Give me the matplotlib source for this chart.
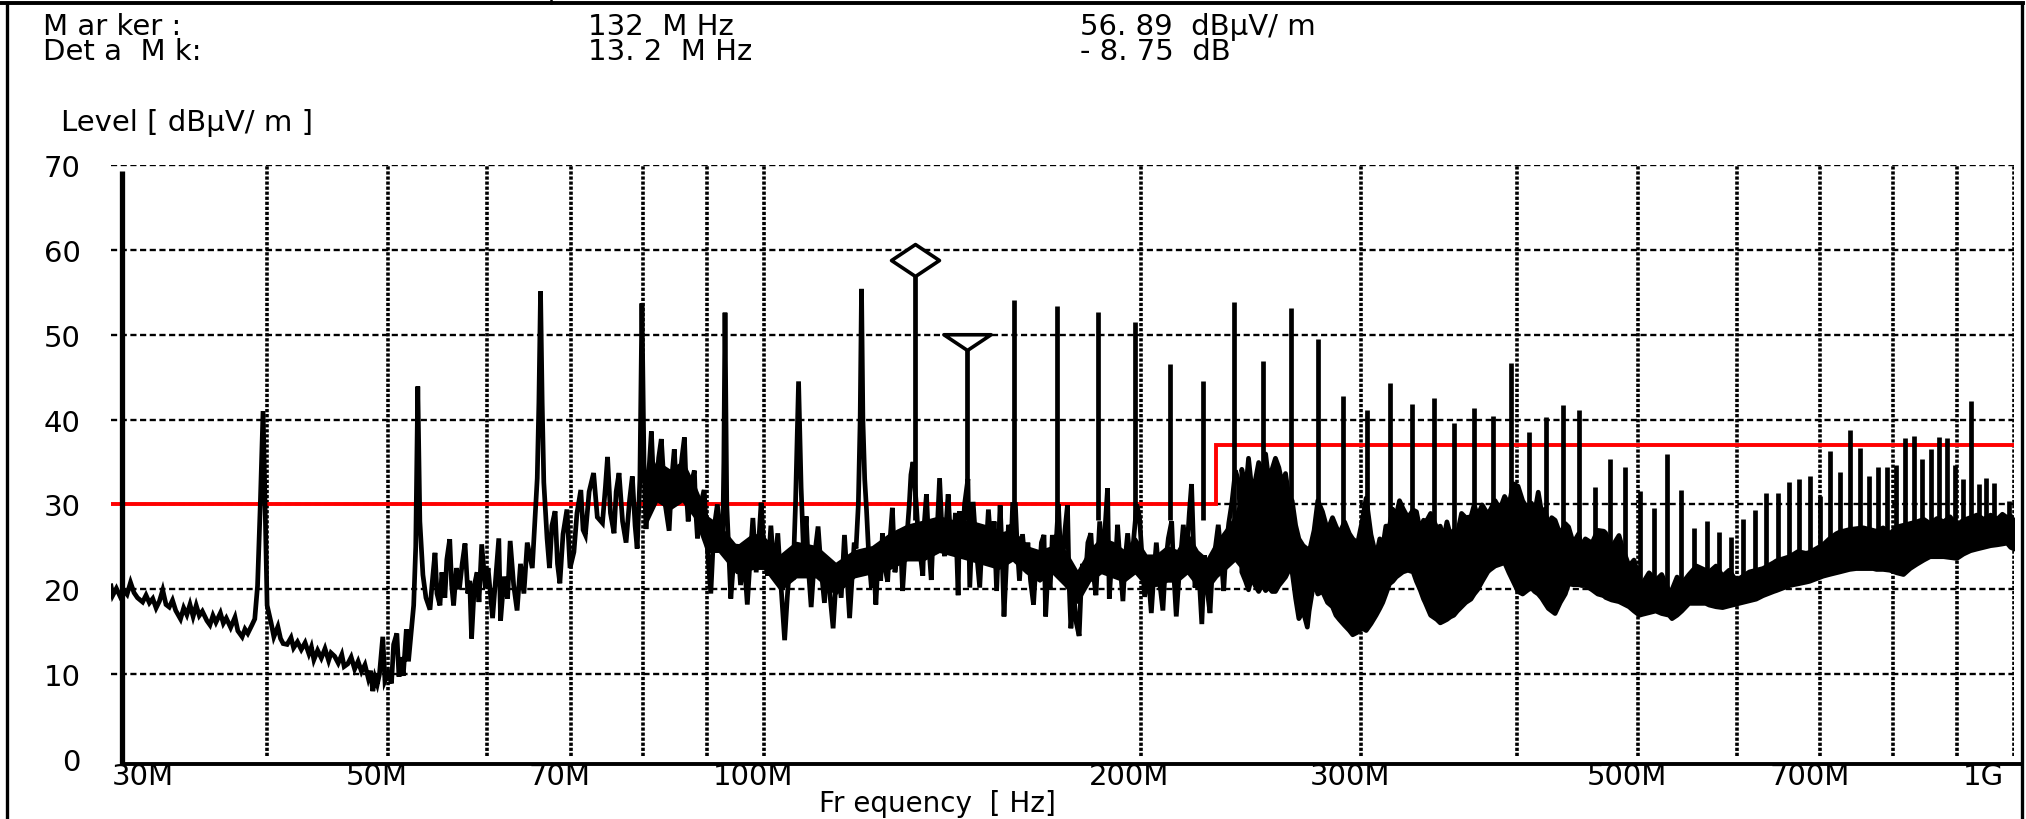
import matplotlib
matplotlib.use("Agg")
import matplotlib.pyplot as plt
import matplotlib.transforms as mtransforms
from matplotlib.lines import Line2D
from matplotlib.path import Path
from matplotlib.ticker import NullLocator
import numpy as np

# ---- data (frequency in MHz, level in dBuV/m) ----
trace_f = [30.0, 30.1, 30.3, 30.5, 30.7, 30.9, 31.1, 31.3, 31.5, 31.8, 32.0, 32.2, 32.4, 32.6, 32.8, 33.0, 33.2, 33.4, 33.6, 33.8,
           34.1, 34.3, 34.5, 34.7, 34.9, 35.1, 35.3, 35.5, 35.8, 36.0, 36.2, 36.4, 36.7, 36.9, 37.1, 37.4, 37.7, 37.9, 38.2, 38.4,
           38.6, 38.9, 39.1, 39.3, 39.5, 39.7, 39.85, 40.0,
           40.3, 40.5, 40.8, 41.0, 41.2, 41.5, 41.8, 42.0, 42.3, 42.6, 42.9, 43.2, 43.4, 43.6, 43.9, 44.2, 44.5, 44.8, 45.0, 45.3,
           45.6, 45.9, 46.1, 46.4, 46.7, 47.0, 47.3, 47.6, 47.9, 48.2, 48.4, 48.6, 48.8, 49.0, 49.2, 49.5, 49.7, 50.0, 50.3, 50.5,
           50.8, 51.0, 51.2, 51.4, 51.7, 51.9, 52.1, 52.4, 52.6, 52.8, 53.0, 53.3,
           53.6, 54.0, 54.2, 54.5, 54.7, 55.0, 55.2, 55.5, 55.7, 56.0, 56.2, 56.4, 56.7, 57.0, 57.3, 57.6, 57.9, 58.1, 58.3, 58.6,
           58.9, 59.1, 59.4, 59.8, 60.1, 60.6,
           61.0, 61.3, 61.5, 61.9, 62.3, 62.6, 63.0, 63.4, 63.8, 64.2, 64.6, 65.2, 65.8, 66.0, 66.2, 66.4, 66.6, 67.0, 67.3, 67.6,
           68.0, 68.3, 68.6, 69.0, 69.5, 69.9, 70.4, 70.8, 71.3, 71.6, 71.9, 72.4, 73.0, 73.5, 74.2, 74.6, 74.9, 75.3, 75.8, 76.1,
           76.5, 77.0, 77.5, 78.0, 78.4, 78.8, 79.1, 79.5, 79.8, 80.1, 80.4, 80.8, 81.2, 81.5, 81.9, 82.3, 82.7, 83.3, 83.9, 84.3,
           84.7, 85.1, 85.5, 85.9, 86.3, 86.6, 86.9, 87.4, 87.9, 88.1, 88.4, 88.9, 89.5, 90.0, 90.6, 91.1, 91.7, 92.1, 92.6, 92.8,
           93.0, 93.3, 94.0, 94.5, 95.2, 95.7, 96.3, 96.9, 97.4, 97.9, 98.5, 99.0, 99.4, 100.0, 100.6, 101.2, 101.8, 102.5, 103.1, 103.8,
           104.3, 104.9, 105.4, 105.9, 106.5, 107.0, 107.5, 108.0, 108.5, 109.0, 109.7, 110.4, 111.0, 111.7, 112.3, 112.9, 113.5, 114.0, 114.5, 115.2,
           115.9, 116.4, 117.0, 117.6, 118.0, 118.4, 118.9, 119.3, 119.6, 119.9, 120.3, 120.7, 121.2, 121.8,
           122.3, 122.8, 123.4, 123.9, 124.3, 124.9, 125.5, 126.0, 126.6, 127.2, 127.8, 128.4, 129.0, 129.6, 130.2, 130.6, 131.0, 131.5, 132.3, 132.7,
           133.3, 133.9, 134.3, 134.8, 135.4, 136.0, 136.6, 137.3, 138.1, 138.7, 139.4, 139.9, 140.3, 140.9, 141.6, 142.2, 142.9, 143.3, 143.9, 144.6,
           145.5, 146.0, 146.5, 146.9, 147.8, 148.7, 149.5, 150.3, 151.1, 152.0, 152.7, 153.4, 153.9, 154.4, 155.0, 155.5, 156.2, 156.8, 157.5, 158.0,
           158.8, 159.3, 160.0, 160.9, 161.8, 162.5, 163.3, 164.2, 165.0, 165.8, 166.6, 167.4, 167.9, 168.6, 169.3, 170.0, 170.8, 171.9, 172.5, 173.2,
           174.0, 174.8, 175.3, 175.9, 176.8, 177.7, 178.6, 179.1, 179.7, 180.6, 181.5, 182.5, 183.3, 184.2, 185.5, 186.4, 187.3, 188.2, 188.8, 189.8,
           190.7, 191.7, 192.6, 193.6, 194.4, 195.3, 196.5, 197.5, 198.6, 199.6, 200.5, 201.5, 202.7, 204.0, 204.9, 205.9, 207.1, 208.4, 209.4, 210.5,
           211.8, 212.6, 213.6, 214.9, 216.4, 217.6, 218.8, 219.7, 220.4, 221.1, 222.5, 223.9, 225.0, 226.1, 227.3, 228.4, 229.6, 230.8, 232.0, 233.1,
           234.2, 235.3, 236.7, 238.2, 239.7, 240.4, 241.2]
trace_v = [20.4, 19.3, 20.1, 19.2, 19.9, 19.4, 20.8, 19.6, 19.0, 18.5, 19.3, 18.4, 18.9, 17.8, 18.6, 19.9, 18.2, 17.9, 18.7, 17.5,
           16.5, 17.8, 17.0, 18.2, 16.8, 18.1, 16.9, 17.4, 16.3, 15.8, 16.9, 16.1, 17.2, 16.0, 16.6, 15.5, 16.7, 15.1, 14.4, 15.3,
           14.8, 15.8, 16.5, 20.4, 30.0, 41.0, 30.0, 18.1,
           16.0, 14.4, 15.6, 14.2, 13.6, 13.5, 14.3, 13.1, 13.8, 12.9, 13.7, 12.4, 13.2, 11.7, 12.8, 11.9, 13.0, 11.6, 12.5, 12.1,
           11.3, 12.3, 10.9, 11.2, 12.0, 10.6, 11.5, 10.3, 11.1, 9.5, 10.4, 8.0, 9.6, 8.8, 10.0, 14.4, 9.2, 10.1, 8.9, 13.5,
           14.8, 9.7, 12.0, 9.8, 15.3, 11.5, 14.2, 18.1, 25.0, 43.9, 28.0, 21.7,
           19.0, 17.6, 20.5, 24.3, 19.5, 18.1, 22.0, 19.0, 23.5, 25.9, 20.5, 18.1, 22.5, 20.0, 23.0, 25.4, 19.5, 21.0, 14.2, 20.5,
           22.0, 18.5, 25.3, 20.2, 22.5, 16.6,
           22.0, 26.0, 16.3, 21.5, 18.9, 25.7, 20.5, 17.5, 23.0, 19.5, 25.5, 22.5, 33.1, 42.0, 55.1, 42.0, 32.6, 26.0, 22.5, 27.5,
           29.2, 23.0, 20.7, 26.5, 29.4, 22.5, 24.4, 29.0, 31.7, 27.0, 26.4, 31.5, 33.7, 28.5, 27.8, 32.0, 35.6, 29.0, 26.6, 31.5,
           33.7, 28.0, 25.5, 30.5, 33.3, 27.5, 24.8, 33.0, 53.7, 35.0, 27.1, 33.5, 38.6, 33.0, 31.7, 35.5, 37.7, 30.0, 26.9, 33.0,
           36.5, 31.0, 32.4, 35.5, 37.9, 31.5, 28.0, 32.5, 34.0, 29.5, 26.0, 30.0, 31.7, 25.0, 19.5, 27.0, 30.0, 27.0, 25.6, 35.0,
           52.6, 30.0, 18.9, 23.5, 25.3, 20.5, 24.0, 18.2, 23.5, 28.4, 22.0, 26.0, 30.2, 24.0, 21.6, 27.5, 22.0, 26.6, 20.5, 14.0,
           19.0, 24.0, 21.1, 30.0, 44.5, 32.0, 24.0, 28.6, 22.0, 17.9, 24.0, 27.4, 22.5, 18.4, 23.5, 19.0, 15.4, 20.0, 22.5, 19.0,
           26.4, 22.0, 16.6, 22.0, 25.5, 24.8, 30.0, 40.0, 55.4, 40.0, 33.0, 29.4, 24.0, 20.2,
           23.0, 18.2, 24.5, 21.0, 26.6, 22.5, 20.9, 25.5, 29.6, 22.0, 24.4, 27.0, 19.8, 24.5, 27.3, 30.0, 33.5, 35.0, 30.0, 26.9,
           24.0, 21.6, 28.0, 31.2, 25.0, 21.1, 28.0, 25.0, 33.1, 27.0, 23.9, 28.5, 31.2, 26.0, 25.0, 29.0, 19.3, 29.2, 24.0, 30.0,
           33.0, 20.2, 26.0, 30.3, 24.5, 20.2, 27.0, 23.5, 29.4, 24.0, 28.0, 19.8, 25.0, 29.9, 24.0, 16.8, 23.0, 27.6, 24.5, 30.0,
           30.0, 25.3, 21.0, 26.5, 22.5, 25.5, 21.0, 18.2, 23.5, 21.0, 25.5, 26.4, 16.8, 22.0, 20.0, 26.4, 23.0, 30.0, 25.0, 23.0,
           27.0, 29.9, 21.0, 15.4, 19.5, 16.0, 14.5, 19.0, 23.0, 21.0, 25.5, 26.6, 22.0, 19.3, 28.0, 23.0, 27.0, 31.9, 18.9, 24.5,
           21.5, 27.6, 23.0, 18.6, 23.5, 26.6, 22.0, 26.0, 30.0, 28.5, 24.0, 19.1, 22.5, 17.2, 21.5, 25.5, 21.0, 17.5, 23.0, 26.0,
           28.0, 22.0, 16.8, 22.5, 27.6, 23.5, 29.0, 32.4, 26.0, 20.2, 23.0, 15.9, 24.0, 20.0, 17.2, 23.0, 25.0, 27.6, 24.0, 19.8,
           25.0, 27.8, 30.3, 34.0, 32.6, 27.0, 23.0]

# dense core of the noise between 80 and 240 MHz
core_f = [80.5, 82, 84, 86, 88, 90, 92, 95, 98, 100, 103, 106, 110, 114, 118, 122, 126, 130,
          134, 138, 142, 146, 150, 154, 158, 162, 166, 170, 174, 178, 182, 186, 190, 194,
          198, 202, 206, 210, 214, 218, 222, 226, 230, 234, 238, 241]
core_lo = [28.0, 30.5, 29.5, 30.5, 28.5, 24.5, 24.5, 22.0, 22.5, 22.5, 20.0, 21.5, 21.5, 19.5, 21.5, 22.0, 22.5, 23.5,
           23.5, 24.5, 24.0, 23.5, 23.0, 22.5, 23.5, 22.0, 21.0, 22.0, 20.5, 18.5, 21.0, 22.0, 21.5, 21.0,
           22.0, 20.5, 20.5, 21.0, 21.0, 22.0, 20.5, 20.0, 21.5, 22.5, 23.5, 22.5]
core_hi = [32.0, 35.0, 34.0, 35.0, 32.0, 28.5, 27.5, 25.0, 26.5, 26.0, 24.0, 25.5, 25.0, 23.0, 24.5, 25.0, 26.5, 27.5,
           28.0, 28.5, 28.0, 28.0, 27.5, 26.5, 27.0, 25.0, 24.5, 25.0, 24.5, 22.0, 24.5, 26.0, 25.5, 24.5,
           26.0, 24.0, 24.0, 25.0, 24.5, 26.5, 24.5, 23.5, 25.5, 27.0, 28.5, 31.0]

# dense noise band above 240 MHz: lower and upper edge
band_f = [240.8, 242.5, 243.8, 245.2, 246.8, 248.4, 250.0, 251.6, 253.0, 254.6,
          256.2, 257.8, 259.4, 261.0, 262.6, 264.2, 265.9, 267.5, 269.6, 271.7,
          272.6, 275.1, 277.0, 279.4, 282.0, 284.6, 286.4, 288.2, 291.0, 293.6,
          295.4, 298.1, 300.5, 302.8, 305.5, 308.4, 310.5, 312.2, 314.0, 316.1,
          318.0, 320.0, 322.0, 324.0, 327.0, 330.2, 332.2, 334.5, 336.6, 337.6,
          341.0, 344.9, 347.1, 349.3, 351.4, 353.6, 355.9, 358.2, 361.0, 363.8,
          367.3, 369.5, 371.8, 375.0, 378.8, 380.0, 384.0, 387.5, 390.8, 394.0,
          397.0, 400.6, 404.0, 408.1, 410.7, 413.0, 415.8, 418.5, 421.0, 423.6,
          426.2, 428.9, 433.0, 437.0, 439.7, 443.5, 447.9, 450.5, 453.5, 459.1,
          464.0, 469.2, 470.7, 476.0, 482.5, 485.5, 491.5, 496.0, 501.0, 503.7,
          510.0, 516.3, 522.0, 529.2, 532.0, 537.0, 541.7, 549.0, 556.6, 566.0,
          569.8, 577.0, 584.0, 591.0, 598.5, 602.0, 613.5, 621.3, 629.0, 641.7,
          644.7, 660.7, 671.0, 681.0, 685.6, 702.7, 711.0, 720.0, 724.6, 738.0,
          747.0, 756.8, 770.7, 775.5, 785.0, 795.0, 805.0, 815.0, 825.0, 835.0,
          846.0, 856.0, 867.0, 877.6, 888.0, 899.4, 910.0, 922.0, 933.0, 945.0,
          957.0, 968.6, 978.0, 986.5, 993.0, 1000.0]
band_lo = [22.1, 21.0, 20.0, 21.5, 20.5, 19.8, 20.6, 19.9, 20.3, 19.8,
           19.8, 20.5, 21.0, 21.5, 22.3, 22.1, 19.0, 16.6, 17.5, 15.6,
           17.5, 21.1, 19.5, 19.8, 18.5, 18.0, 17.0, 16.5, 15.8, 15.2,
           14.7, 15.0, 15.5, 15.2, 16.0, 17.0, 17.8, 18.5, 19.5, 20.7,
           21.0, 21.5, 21.8, 22.1, 22.3, 22.1, 21.0, 20.0, 18.9, 18.5,
           17.0, 16.5, 16.1, 16.3, 16.5, 16.8, 17.0, 17.5, 18.0, 18.5,
           18.9, 19.5, 20.0, 21.0, 22.1, 22.3, 22.8, 23.0, 23.2, 22.0,
           21.0, 19.8, 19.5, 20.0, 20.2, 19.8, 19.5, 19.0, 18.4, 17.8,
           17.5, 17.2, 18.5, 19.5, 20.7, 20.6, 20.6, 20.5, 20.5, 20.0,
           19.5, 19.3, 19.1, 18.8, 18.6, 18.4, 18.0, 17.5, 17.0, 17.1,
           17.3, 17.5, 17.2, 17.0, 16.6, 17.0, 17.5, 18.4, 18.4, 18.4,
           18.2, 18.0, 17.9, 18.1, 18.3, 18.4, 18.7, 18.9, 19.3, 19.8,
           19.9, 20.5, 20.7, 20.9, 21.0, 21.6, 21.8, 22.0, 22.1, 22.4,
           22.5, 22.5, 22.5, 22.4, 22.4, 22.3, 22.0, 21.8, 22.5, 23.0,
           23.5, 23.9, 23.9, 23.9, 23.8, 23.7, 24.2, 24.6, 24.8, 25.0,
           25.2, 25.3, 25.4, 25.5, 25.0, 24.8]
band_hi = [34.2, 31.5, 35.5, 32.0, 32.8, 35.0, 33.5, 36.0, 33.0, 34.2,
           35.5, 34.4, 32.5, 33.7, 31.0, 30.5, 27.6, 26.0, 25.2, 24.8,
           24.4, 27.0, 30.5, 29.2, 27.0, 28.5, 27.5, 26.6, 28.0, 26.6,
           26.0, 25.5, 28.0, 30.8, 26.5, 23.9, 26.0, 25.0, 27.5, 27.5,
           29.5, 28.7, 30.5, 29.6, 28.5, 29.4, 29.2, 27.0, 28.2, 27.8,
           29.0, 27.3, 27.5, 26.0, 28.0, 26.5, 27.0, 26.6, 29.0, 28.5,
           28.6, 30.0, 28.7, 30.0, 28.9, 29.2, 30.5, 29.5, 31.0, 30.0,
           32.5, 32.2, 30.5, 29.4, 30.2, 29.0, 31.5, 29.0, 29.5, 27.5,
           28.5, 28.2, 26.5, 27.8, 27.4, 25.5, 26.6, 25.0, 26.0, 25.5,
           27.0, 26.9, 26.7, 25.0, 26.4, 25.0, 22.8, 23.5, 21.2, 20.7,
           22.0, 21.1, 21.8, 19.8, 20.0, 21.5, 20.7, 21.8, 22.8, 22.3,
           22.1, 22.8, 21.6, 22.3, 21.1, 21.3, 22.1, 22.3, 22.5, 23.2,
           23.4, 23.9, 24.5, 24.3, 24.4, 25.3, 26.0, 26.6, 26.8, 27.1,
           27.2, 27.3, 27.0, 26.9, 27.3, 26.6, 27.4, 27.6, 27.8, 28.0,
           28.3, 27.8, 28.4, 28.0, 28.6, 27.6, 28.2, 28.5, 28.8, 28.3,
           28.8, 28.3, 28.9, 28.5, 28.7, 28.0]

# harmonics of 13.2 MHz
spike_f = [132.0, 145.2, 158.4, 171.6, 184.8, 198.0, 211.2, 224.4, 237.6, 250.8, 264.0, 277.2,
           290.4, 303.6, 316.8, 330.0, 343.2, 356.4, 369.6, 382.8, 396.0, 409.2, 422.4, 435.6,
           448.8, 462.0, 475.2, 488.4, 501.6, 514.8, 528.0, 541.2, 554.4, 567.6, 580.8, 594.0,
           607.2, 620.4, 633.6, 646.8, 660.0, 673.2, 686.4, 699.6, 712.8, 726.0, 739.2, 752.4,
           765.6, 778.8, 792.0, 805.2, 818.4, 831.6, 844.8, 858.0, 871.2, 884.4, 897.6, 910.8,
           924.0, 937.2, 950.4, 963.6, 976.8, 990.0]
spike_v = [56.89, 48.14, 54.1, 53.4, 52.7, 51.5, 46.6, 44.6, 53.9, 46.9, 53.2, 49.5,
           42.8, 41.1, 44.3, 41.8, 42.6, 39.6, 41.4, 40.4, 46.7, 38.5, 40.3, 41.7,
           41.1, 32.0, 35.4, 34.4, 31.6, 29.6, 36.0, 31.7, 27.2, 28.0, 26.8, 26.2,
           28.3, 29.3, 31.4, 31.4, 32.7, 33.0, 33.4, 31.0, 36.3, 33.8, 38.8, 36.7,
           33.3, 34.4, 34.4, 34.7, 37.8, 38.1, 35.3, 36.5, 37.9, 37.8, 34.7, 33.0,
           42.2, 32.4, 33.1, 32.5, 28.7, 30.4]

limit_f = [30, 230, 230, 1000]
limit_v = [30, 30, 37, 37]

marker_f, marker_v = 132.0, 56.89
delta_f, delta_v = 13.2, -8.75

tick_f = [30, 50, 70, 100, 200, 300, 500, 700, 1000]
tick_lab = ["30M", "50M", "70M", "100M", "200M", "300M", "500M", "700M", "1G"]
grid_f = [40, 50, 60, 70, 80, 90, 100, 200, 300, 400, 500, 600, 700, 800, 900, 1000]
level_ticks = [0, 10, 20, 30, 40, 50, 60, 70]

# ---- figure ----
W, H = 2026, 820
plt.rcParams["font.family"] = ["DejaVu Sans"]
fig = plt.figure(figsize=(W / 100, H / 100), dpi=100)
fig.patch.set_facecolor("white")


def fx(x):
    return x / W


def fy(y):
    return 1 - y / H


ax = fig.add_axes([fx(111), fy(760), fx(2014) - fx(111), fy(166) - fy(760)])
ax.set_xscale("log")
ax.set_xlim(30, 1000)
ax.set_ylim(0, 70)
for s in ax.spines.values():
    s.set_visible(False)
ax.set_facecolor("none")

# grid
ax.hlines(level_ticks[1:], 30, 1000, colors="k", lw=1.7, linestyles=(0, (2.6, 1.5)), zorder=1)
ax.vlines(grid_f, 0.3, 70, colors="k", lw=2.6, linestyles=(0, (0.9, 0.5)), zorder=1)

# limit
ax.plot(limit_f, limit_v, color="#ff0000", lw=2.8, zorder=2, solid_joinstyle="miter")

# measured trace
lw = 3.4
ax.fill_between(core_f, core_lo, core_hi, facecolor="k", edgecolor="k", lw=2.0, zorder=3)
ax.plot(trace_f, trace_v, color="k", lw=lw, zorder=3, solid_joinstyle="miter")
ax.fill_between(band_f, band_lo, band_hi, facecolor="k", edgecolor="k", lw=lw, zorder=3)
spike_base = np.interp(spike_f, band_f, [(a + b) / 2 for a, b in zip(band_lo, band_hi)])
ax.vlines(spike_f, spike_base, spike_v, colors="k", lw=lw, zorder=3)

# axis lines
ax.plot([30.6, 30.6], [-0.6, 69.3], color="k", lw=3.8, clip_on=False, zorder=4,
        solid_capstyle="butt")
ax.plot([30.6, 1015], [-0.6, -0.6], color="k", lw=2.8, clip_on=False, zorder=4)

# markers
diamond = Path([(0, 0), (-1.5, 1), (0, 2), (1.5, 1), (0, 0)],
               [Path.MOVETO, Path.LINETO, Path.LINETO, Path.LINETO, Path.CLOSEPOLY])
triangle = Path([(0, 0), (-1.5, 1), (1.5, 1), (0, 0)],
                [Path.MOVETO, Path.LINETO, Path.LINETO, Path.CLOSEPOLY])
ax.plot([marker_f], [marker_v], marker=diamond, ms=46, mfc="white", mec="k", mew=2.6,
        zorder=5, clip_on=False)
ax.plot([marker_f + delta_f], [marker_v + delta_v], marker=triangle, ms=34, mfc="white",
        mec="k", mew=2.6, zorder=5, clip_on=False)

# ticks
ax.xaxis.set_minor_locator(NullLocator())
ax.yaxis.set_minor_locator(NullLocator())
ax.set_xticks(tick_f, tick_lab)
ax.set_yticks(level_ticks)
ax.tick_params(length=0, labelsize=21, colors="k")
ax.tick_params(axis="y", pad=22)
ax.tick_params(axis="x", pad=2)
labels = ax.get_xticklabels()
for i, lab in enumerate(labels):
    dx = -11
    if i == 0:
        lab.set_ha("left")
        dx = 1
    elif i == len(labels) - 1:
        lab.set_ha("right")
        dx = -10
    lab.set_transform(lab.get_transform() + mtransforms.ScaledTranslation(dx / 100, 0, fig.dpi_scale_trans))


# frame
def fline(x0, y0, x1, y1, w=2.4):
    fig.add_artist(Line2D([fx(x0), fx(x1)], [fy(y0), fy(y1)], color="k", lw=w,
                          transform=fig.transFigure))


fline(0, 4, 2023, 4, 2.8)
fline(7, 4, 7, 820)
fline(2022, 4, 2022, 820)
fline(551, 0, 551, 4, 1.8)

# header texts
hs = 21
fig.text(fx(43), fy(27), "M ar ker :", fontsize=hs, va="center")
fig.text(fx(43), fy(52), "Det a  M k:", fontsize=hs, va="center")
fig.text(fx(588), fy(27), "132  M Hz", fontsize=hs, va="center")
fig.text(fx(588), fy(52), "13. 2  M Hz", fontsize=hs, va="center")
fig.text(fx(1080), fy(27), "56. 89  dB\u00b5V/ m", fontsize=hs, va="center")
fig.text(fx(1080), fy(52), "- 8. 75  dB", fontsize=hs, va="center")
fig.text(fx(61), fy(123), "Level [ dB\u00b5V/ m ]", fontsize=hs, va="center")
fig.text(fx(937), fy(818), "Fr equency  [ Hz]", fontsize=20, va="bottom", ha="center")

fig.savefig("out.png", dpi=100, facecolor="white")
